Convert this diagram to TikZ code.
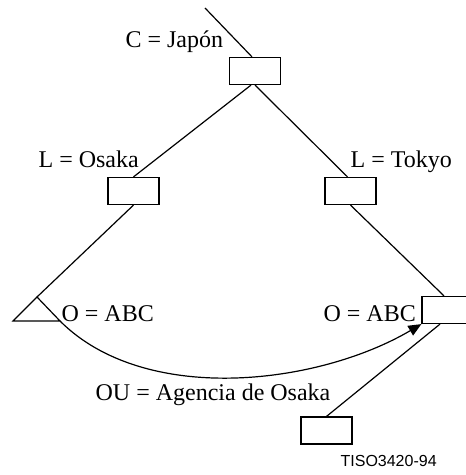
\documentclass[tikz,border=0pt]{standalone}
\usepackage{fontspec}
\setmainfont{Liberation Serif}
\newfontfamily\arialfont{Liberation Sans}
\usetikzlibrary{arrows.meta}

\begin{document}
\begin{tikzpicture}[
x=0.5pt, y=-0.5pt,
line width=0.6pt,
box/.style={draw, rectangle, minimum width=25.5pt, minimum height=13.5pt, inner sep=0pt},
lbl/.style={inner sep=0pt, anchor=base west, font=\fontsize{12}{14}\selectfont}
]
\useasboundingbox (0,0) rectangle (465,475);

% boxes
\node[box] (japon) at (255,71) {};
\node[box] (osaka) at (133.5,191) {};
\node[box] (tokyo) at (350.5,191) {};
\node[box] (abc) at (447.5,310) {};
\node[box] (agencia) at (326.5,430.5) {};

% triangle and free ends
\coordinate (top) at (205,8);
\coordinate (apex) at (37,297);
\coordinate (tl) at (13,321);
\coordinate (tr) at (60,321);

% edges
\draw (top) -- ([xshift=-1.5pt]japon.north);
\draw ([xshift=-2pt]japon.south) -- (osaka.north);
\draw (japon.south) -- ([xshift=-1.5pt]tokyo.north);
\draw (osaka.south) -- (apex);
\draw (tl) -- (apex) -- (tr) -- cycle;
\draw (tokyo.south) -- ([xshift=-1.75pt]abc.north);
\draw ([xshift=-3.75pt]abc.south) -- (agencia.north);

% arrow
\draw[-{Triangle[length=6.5pt,width=5.5pt]}] (tr) .. controls (145,406) and (318,385) .. (abc.south west);

% labels
\node[lbl] (cjapon) at (125,48) {C = Japón};
\node[lbl] (losaka) at (38,168) {L = Osaka};
\node[lbl] (ltokyo) at (350,168) {L = Tokyo};
\node[lbl] (oleft) at (61,321) {O = ABC};
\node[lbl] (oright) at (323,321) {O = ABC};
\node[lbl] (ou) at (95,400) {OU = Agencia de Osaka};
\node[lbl, font=\arialfont\fontsize{8}{10}\selectfont] (tiso) at (340,466) {TISO3420-94};

\end{tikzpicture}
\end{document}
